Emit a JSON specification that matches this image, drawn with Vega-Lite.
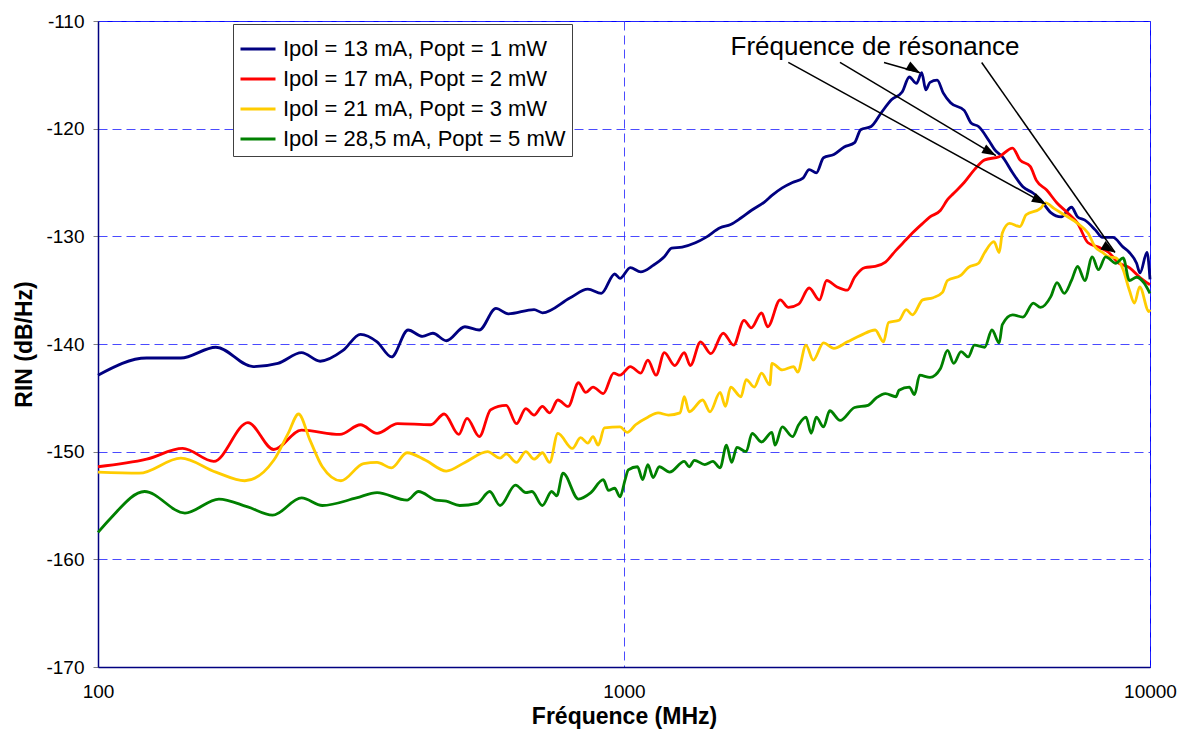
{
  "$schema": "https://vega.github.io/schema/vega-lite/v6.json",
  "width": 1052,
  "height": 646,
  "autosize": "none",
  "padding": {"left": 98, "top": 21, "right": 35, "bottom": 66},
  "background": "white",
  "config": {
    "font": "Liberation Sans",
    "view": {"stroke": "#0000ff", "strokeWidth": 1},
    "axis": {
      "labelFont": "Liberation Sans",
      "labelFontSize": 19,
      "labelColor": "black",
      "titleFont": "Liberation Sans",
      "titleFontSize": 23,
      "titleFontWeight": "bold",
      "titleColor": "black",
      "domainColor": "#000080",
      "domainWidth": 1.5,
      "grid": true,
      "gridColor": "#2a2aff",
      "gridDash": [9, 5],
      "gridWidth": 1,
      "gridOpacity": 0.85,
      "tickColor": "#808080"
    }
  },
  "datasets": {
    "blue": [
      {"f":100,"v":-142.9},{"f":123.7,"v":-141.3},{"f":143.7,"v":-141.3},{"f":167.5,"v":-140.3},{"f":197.2,"v":-142.1},{"f":219.8,"v":-141.8},{"f":243.8,"v":-140.8},{"f":264.5,"v":-141.6},{"f":292.3,"v":-140.6},{"f":315.5,"v":-139.1},{"f":339.3,"v":-139.8},{"f":361.4,"v":-141.2},{"f":388.6,"v":-138.7},{"f":414,"v":-139.3},{"f":433.2,"v":-139.0},{"f":459.4,"v":-139.7},{"f":498.3,"v":-138.4},{"f":530.7,"v":-138.7},{"f":570.8,"v":-136.7},{"f":602.6,"v":-137.2},{"f":674.6,"v":-136.8},{"f":699.7,"v":-137.1},{"f":790.5,"v":-135.7},{"f":853.6,"v":-134.9},{"f":905.4,"v":-135.3},{"f":960.1,"v":-133.5},{"f":982.6,"v":-133.9},{"f":1028,"v":-132.9},{"f":1076,"v":-133.3},{"f":1136,"v":-132.7},{"f":1193,"v":-131.9},{"f":1232,"v":-131.1},{"f":1290,"v":-131.0},{"f":1367,"v":-130.6},{"f":1431,"v":-130.1},{"f":1523,"v":-129.2},{"f":1595,"v":-128.9},{"f":1668,"v":-128.3},{"f":1745,"v":-127.6},{"f":1851,"v":-126.8},{"f":1911,"v":-126.2},{"f":1999,"v":-125.5},{"f":2091,"v":-125.0},{"f":2189,"v":-124.6},{"f":2249,"v":-123.8},{"f":2321,"v":-124.1},{"f":2395,"v":-122.7},{"f":2506,"v":-122.4},{"f":2622,"v":-121.7},{"f":2744,"v":-121.3},{"f":2818,"v":-120.1},{"f":2950,"v":-119.8},{"f":3086,"v":-118.5},{"f":3228,"v":-117.3},{"f":3379,"v":-116.6},{"f":3487,"v":-115.2},{"f":3598,"v":-115.8},{"f":3681,"v":-114.8},{"f":3748,"v":-116.4},{"f":3817,"v":-115.7},{"f":3939,"v":-115.5},{"f":4047,"v":-116.7},{"f":4177,"v":-117.6},{"f":4433,"v":-118.3},{"f":4575,"v":-119.5},{"f":4721,"v":-119.8},{"f":4939,"v":-121.1},{"f":5075,"v":-122.0},{"f":5239,"v":-122.6},{"f":5480,"v":-124.1},{"f":5733,"v":-125.4},{"f":6000,"v":-126.0},{"f":6192,"v":-126.6},{"f":6477,"v":-127.8},{"f":6779,"v":-128.2},{"f":7092,"v":-127.3},{"f":7286,"v":-128.2},{"f":7520,"v":-128.5},{"f":7870,"v":-129.4},{"f":8122,"v":-130.1},{"f":8497,"v":-130.1},{"f":8892,"v":-131.0},{"f":9137,"v":-131.5},{"f":9430,"v":-132.5},{"f":9572,"v":-133.4},{"f":9870,"v":-131.5},{"f":10000,"v":-134.0}
    ],
    "red": [
      {"f":100,"v":-151.4},{"f":123.7,"v":-150.7},{"f":144.9,"v":-149.7},{"f":166.0,"v":-150.9},{"f":192.8,"v":-147.3},{"f":215.8,"v":-149.8},{"f":243.8,"v":-148.0},{"f":288.4,"v":-148.4},{"f":315.5,"v":-147.5},{"f":339.3,"v":-148.3},{"f":371.3,"v":-147.4},{"f":429.2,"v":-147.5},{"f":455.2,"v":-146.5},{"f":485.1,"v":-148.4},{"f":503.0,"v":-146.9},{"f":530.7,"v":-148.6},{"f":557.9,"v":-146.1},{"f":597.0,"v":-145.7},{"f":624.6,"v":-147.4},{"f":650.6,"v":-146.0},{"f":674.6,"v":-146.6},{"f":699.7,"v":-145.8},{"f":722.0,"v":-146.4},{"f":748.6,"v":-145.2},{"f":783.2,"v":-145.8},{"f":819.3,"v":-143.6},{"f":845.9,"v":-144.5},{"f":873.1,"v":-144.0},{"f":913.3,"v":-144.6},{"f":955.9,"v":-142.7},{"f":982.6,"v":-142.9},{"f":1028,"v":-142.1},{"f":1076,"v":-142.7},{"f":1110,"v":-141.5},{"f":1151,"v":-142.9},{"f":1193,"v":-140.8},{"f":1249,"v":-142.0},{"f":1302,"v":-140.8},{"f":1337,"v":-142.0},{"f":1398,"v":-139.8},{"f":1463,"v":-140.9},{"f":1544,"v":-139.0},{"f":1616,"v":-140.1},{"f":1691,"v":-137.8},{"f":1745,"v":-138.5},{"f":1826,"v":-137.1},{"f":1876,"v":-138.4},{"f":1981,"v":-135.9},{"f":2054,"v":-136.6},{"f":2148,"v":-136.3},{"f":2249,"v":-134.8},{"f":2353,"v":-135.9},{"f":2428,"v":-134.1},{"f":2541,"v":-134.7},{"f":2659,"v":-135.0},{"f":2744,"v":-133.8},{"f":2871,"v":-132.9},{"f":3003,"v":-132.8},{"f":3141,"v":-132.4},{"f":3288,"v":-131.3},{"f":3440,"v":-130.3},{"f":3534,"v":-129.7},{"f":3697,"v":-128.8},{"f":3817,"v":-128.2},{"f":3994,"v":-127.6},{"f":4121,"v":-126.6},{"f":4235,"v":-126.0},{"f":4433,"v":-125.0},{"f":4637,"v":-123.8},{"f":4850,"v":-122.9},{"f":5168,"v":-122.6},{"f":5480,"v":-121.8},{"f":5658,"v":-122.9},{"f":5919,"v":-123.5},{"f":6081,"v":-124.8},{"f":6362,"v":-125.7},{"f":6656,"v":-126.9},{"f":6966,"v":-127.8},{"f":7286,"v":-128.8},{"f":7623,"v":-130.6},{"f":7979,"v":-131.0},{"f":8347,"v":-131.5},{"f":8733,"v":-132.5},{"f":9137,"v":-132.9},{"f":9559,"v":-133.8},{"f":10000,"v":-134.5}
    ],
    "yellow": [
      {"f":100,"v":-151.9},{"f":119.8,"v":-152.0},{"f":143.7,"v":-150.6},{"f":167.5,"v":-151.9},{"f":190.1,"v":-152.7},{"f":215.8,"v":-150.8},{"f":229.9,"v":-148.3},{"f":240.6,"v":-146.5},{"f":252.8,"v":-148.9},{"f":267.0,"v":-151.4},{"f":289.6,"v":-152.7},{"f":319.8,"v":-151.1},{"f":339.3,"v":-151.0},{"f":361.4,"v":-151.5},{"f":386.8,"v":-150.1},{"f":419.6,"v":-150.8},{"f":459.4,"v":-151.8},{"f":498.3,"v":-151.0},{"f":550.4,"v":-150.0},{"f":581.2,"v":-150.6},{"f":597.0,"v":-150.2},{"f":624.6,"v":-151.0},{"f":650.6,"v":-150.0},{"f":674.6,"v":-150.7},{"f":699.7,"v":-150.1},{"f":722.0,"v":-151.0},{"f":748.6,"v":-148.3},{"f":797.8,"v":-149.7},{"f":826.8,"v":-148.7},{"f":853.6,"v":-149.2},{"f":873.1,"v":-148.6},{"f":893.3,"v":-149.4},{"f":917.8,"v":-147.8},{"f":982.6,"v":-147.7},{"f":1014,"v":-148.2},{"f":1052,"v":-147.5},{"f":1110,"v":-146.8},{"f":1161,"v":-146.4},{"f":1215,"v":-146.6},{"f":1278,"v":-146.4},{"f":1302,"v":-144.9},{"f":1330,"v":-146.3},{"f":1411,"v":-145.2},{"f":1457,"v":-146.3},{"f":1523,"v":-144.5},{"f":1559,"v":-145.8},{"f":1595,"v":-144.0},{"f":1668,"v":-144.9},{"f":1707,"v":-143.3},{"f":1769,"v":-144.0},{"f":1826,"v":-142.7},{"f":1893,"v":-143.8},{"f":1911,"v":-141.8},{"f":1999,"v":-142.4},{"f":2101,"v":-142.1},{"f":2139,"v":-142.6},{"f":2218,"v":-140.1},{"f":2290,"v":-141.5},{"f":2395,"v":-139.9},{"f":2506,"v":-140.4},{"f":2659,"v":-139.8},{"f":2818,"v":-139.2},{"f":3003,"v":-138.7},{"f":3114,"v":-139.8},{"f":3184,"v":-138.0},{"f":3333,"v":-137.8},{"f":3440,"v":-136.8},{"f":3534,"v":-137.3},{"f":3697,"v":-135.9},{"f":3870,"v":-135.7},{"f":4031,"v":-135.2},{"f":4121,"v":-134.1},{"f":4373,"v":-133.6},{"f":4512,"v":-132.9},{"f":4721,"v":-132.5},{"f":4850,"v":-131.5},{"f":5050,"v":-130.5},{"f":5168,"v":-131.5},{"f":5239,"v":-129.7},{"f":5406,"v":-128.8},{"f":5658,"v":-129.1},{"f":5815,"v":-128.0},{"f":6192,"v":-127.4},{"f":6335,"v":-126.9},{"f":6566,"v":-127.4},{"f":6872,"v":-128.0},{"f":7286,"v":-128.8},{"f":7623,"v":-129.7},{"f":7870,"v":-131.0},{"f":8122,"v":-131.5},{"f":8347,"v":-131.9},{"f":8613,"v":-132.0},{"f":8892,"v":-133.1},{"f":9137,"v":-135.0},{"f":9343,"v":-136.2},{"f":9559,"v":-134.7},{"f":9956,"v":-137.0},{"f":10000,"v":-136.8}
    ],
    "green": [
      {"f":100,"v":-157.5},{"f":105.6,"v":-156.2},{"f":122.6,"v":-153.7},{"f":146.3,"v":-155.7},{"f":169.8,"v":-154.4},{"f":191.9,"v":-155.1},{"f":214.8,"v":-155.9},{"f":243.8,"v":-154.3},{"f":267.0,"v":-155.0},{"f":309.9,"v":-154.3},{"f":339.3,"v":-153.8},{"f":386.8,"v":-154.5},{"f":406.6,"v":-153.7},{"f":439.1,"v":-154.5},{"f":459.4,"v":-154.6},{"f":487.1,"v":-155.0},{"f":526.1,"v":-154.8},{"f":555.6,"v":-153.7},{"f":581.2,"v":-155.0},{"f":621.9,"v":-153.1},{"f":650.6,"v":-153.8},{"f":668.4,"v":-153.7},{"f":699.7,"v":-155.0},{"f":728.5,"v":-153.7},{"f":745.0,"v":-154.1},{"f":765.6,"v":-152.0},{"f":819.3,"v":-154.4},{"f":865.1,"v":-153.8},{"f":913.3,"v":-152.6},{"f":934.4,"v":-153.6},{"f":960.1,"v":-153.4},{"f":982.6,"v":-154.2},{"f":1005,"v":-152.6},{"f":1019,"v":-151.7},{"f":1061,"v":-151.4},{"f":1085,"v":-152.6},{"f":1110,"v":-151.2},{"f":1136,"v":-152.4},{"f":1167,"v":-151.4},{"f":1221,"v":-151.9},{"f":1302,"v":-150.9},{"f":1330,"v":-151.4},{"f":1361,"v":-150.8},{"f":1424,"v":-151.2},{"f":1476,"v":-150.9},{"f":1523,"v":-151.5},{"f":1566,"v":-149.4},{"f":1602,"v":-151.0},{"f":1639,"v":-149.6},{"f":1707,"v":-150.0},{"f":1752,"v":-148.3},{"f":1826,"v":-149.1},{"f":1911,"v":-148.2},{"f":1937,"v":-149.4},{"f":1999,"v":-147.7},{"f":2091,"v":-148.6},{"f":2148,"v":-147.5},{"f":2218,"v":-146.8},{"f":2269,"v":-148.3},{"f":2321,"v":-146.8},{"f":2395,"v":-147.7},{"f":2461,"v":-146.2},{"f":2576,"v":-147.1},{"f":2744,"v":-145.9},{"f":2910,"v":-145.7},{"f":3018,"v":-145.0},{"f":3141,"v":-144.6},{"f":3288,"v":-144.9},{"f":3333,"v":-144.3},{"f":3487,"v":-144.0},{"f":3567,"v":-144.7},{"f":3648,"v":-142.9},{"f":3817,"v":-143.1},{"f":3994,"v":-142.3},{"f":4121,"v":-140.6},{"f":4235,"v":-141.8},{"f":4373,"v":-140.7},{"f":4512,"v":-141.2},{"f":4637,"v":-140.1},{"f":4850,"v":-140.3},{"f":5006,"v":-138.7},{"f":5168,"v":-139.9},{"f":5239,"v":-138.2},{"f":5480,"v":-137.3},{"f":5733,"v":-137.5},{"f":6000,"v":-136.2},{"f":6192,"v":-136.6},{"f":6477,"v":-135.6},{"f":6656,"v":-134.3},{"f":6872,"v":-135.3},{"f":7092,"v":-134.1},{"f":7286,"v":-132.8},{"f":7520,"v":-134.1},{"f":7765,"v":-131.9},{"f":7979,"v":-133.1},{"f":8235,"v":-131.9},{"f":8613,"v":-132.5},{"f":8892,"v":-132.0},{"f":9137,"v":-134.1},{"f":9430,"v":-133.8},{"f":9732,"v":-134.3},{"f":10000,"v":-135.3}
    ],
    "arrows": [
      {"id":1,"f1":2053,"v1":-113.85,"f2":6335,"v2":-127.0},
      {"id":2,"f1":2574,"v1":-113.85,"f2":5095,"v2":-122.5},
      {"id":3,"f1":3121,"v1":-113.85,"f2":3653,"v2":-114.8},
      {"id":4,"f1":4786,"v1":-113.85,"f2":8580,"v2":-131.5}
    ],
    "label": [
      {"f":3001,"v":-112.4,"t":"Fréquence de résonance"}
    ]
  },
  "layer": [
    {
      "data": {"name": "blue"},
      "mark": {"type": "line", "strokeWidth": 2.8, "interpolate": "monotone"},
      "encoding": {
        "x": {"field": "f", "type": "quantitative", "title": "Fréquence (MHz)",
              "scale": {"type": "log", "domain": [100, 10000], "nice": false},
              "axis": {"values": [100, 1000, 10000], "format": "d", "tickSize": 0, "labelPadding": 15, "titlePadding": 4, "labelFlush": false}},
        "y": {"field": "v", "type": "quantitative", "title": "RIN (dB/Hz)",
              "scale": {"domain": [-170, -110], "nice": false, "zero": false},
              "axis": {"values": [-170, -160, -150, -140, -130, -120, -110], "labelExpr": "'' + datum.value", "tickSize": 5, "labelPadding": 9, "titlePadding": 9}},
        "color": {"datum": "Ipol = 13 mA, Popt = 1 mW",
                  "scale": {"domain": ["Ipol = 13 mA, Popt = 1 mW", "Ipol = 17 mA, Popt = 2 mW", "Ipol = 21 mA, Popt = 3 mW", "Ipol = 28,5 mA, Popt = 5 mW"],
                            "range": ["#000080", "#ff0000", "#ffcc00", "#008000"]},
                  "legend": {"orient": "none", "legendX": 135, "legendY": 3, "title": null,
                             "symbolType": "stroke", "symbolSize": 1225, "symbolStrokeWidth": 3,
                             "labelFontSize": 22, "labelFont": "Liberation Sans", "labelColor": "black", "labelLimit": 500,
                             "rowPadding": -3, "padding": 6, "labelOffset": 6,
                             "strokeColor": "#404040", "fillColor": "white"}}
      }
    },
    {
      "data": {"name": "red"},
      "mark": {"type": "line", "strokeWidth": 2.8, "interpolate": "monotone"},
      "encoding": {
        "x": {"field": "f", "type": "quantitative", "title": "Fréquence (MHz)"},
        "y": {"field": "v", "type": "quantitative", "title": "RIN (dB/Hz)"},
        "color": {"datum": "Ipol = 17 mA, Popt = 2 mW"}
      }
    },
    {
      "data": {"name": "yellow"},
      "mark": {"type": "line", "strokeWidth": 2.8, "interpolate": "monotone"},
      "encoding": {
        "x": {"field": "f", "type": "quantitative", "title": "Fréquence (MHz)"},
        "y": {"field": "v", "type": "quantitative", "title": "RIN (dB/Hz)"},
        "color": {"datum": "Ipol = 21 mA, Popt = 3 mW"}
      }
    },
    {
      "data": {"name": "green"},
      "mark": {"type": "line", "strokeWidth": 2.8, "interpolate": "monotone"},
      "encoding": {
        "x": {"field": "f", "type": "quantitative", "title": "Fréquence (MHz)"},
        "y": {"field": "v", "type": "quantitative", "title": "RIN (dB/Hz)"},
        "color": {"datum": "Ipol = 28,5 mA, Popt = 5 mW"}
      }
    },
    {
      "data": {"name": "arrows"},
      "mark": {"type": "rule", "color": "black", "strokeWidth": 1.5},
      "encoding": {
        "x": {"field": "f1", "type": "quantitative", "title": "Fréquence (MHz)"},
        "y": {"field": "v1", "type": "quantitative", "title": "RIN (dB/Hz)"},
        "x2": {"field": "f2"},
        "y2": {"field": "v2"}
      }
    },
    {
      "data": {"name": "arrows"},
      "mark": {"type": "point", "shape": "M0,0L-0.35,1L0.35,1Z", "filled": true, "color": "black", "opacity": 1, "size": 784, "strokeWidth": 0},
      "encoding": {
        "x": {"field": "f2", "type": "quantitative", "title": "Fréquence (MHz)"},
        "y": {"field": "v2", "type": "quantitative", "title": "RIN (dB/Hz)"},
        "angle": {"field": "id", "type": "ordinal", "scale": {"domain": [1, 2, 3, 4], "range": [118.6, 120.7, 110, 145]}, "legend": null}
      }
    },
    {
      "data": {"name": "label"},
      "mark": {"type": "text", "fontSize": 26, "font": "Liberation Sans", "color": "black", "align": "center", "baseline": "middle"},
      "encoding": {
        "x": {"field": "f", "type": "quantitative", "title": "Fréquence (MHz)"},
        "y": {"field": "v", "type": "quantitative", "title": "RIN (dB/Hz)"},
        "text": {"field": "t"}
      }
    }
  ]
}
